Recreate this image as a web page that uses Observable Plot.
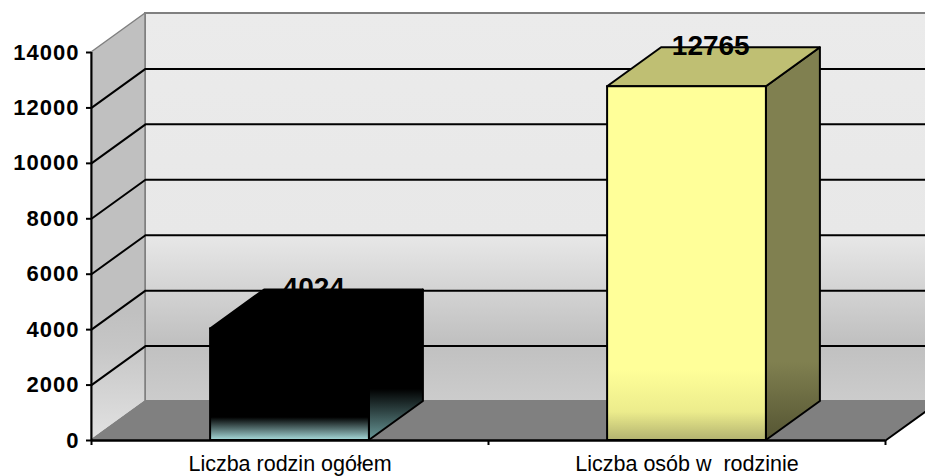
<!DOCTYPE html>
<html><head><meta charset="utf-8">
<script src="https://cdn.jsdelivr.net/npm/d3@7"></script>
<script src="https://cdn.jsdelivr.net/npm/@observablehq/plot@0.6"></script>
<style>html,body{margin:0;padding:0;background:#fff}svg{display:block}
[aria-label="y-axis tick label"]{letter-spacing:1px}</style>
</head><body><div id="chart"></div>
<script>
const categories = ["Liczba rodzin ogółem", "Liczba osób w  rodzinie"];
const values = [4024, 12765];
const yTicks = [0, 2000, 4000, 6000, 8000, 10000, 12000, 14000];
const xEdges = [0, 1, 2];
const xCenters = [0.5, 1.5];

// 3D projection expressed in data units
const depthX = 0.136, depthY = 1407, barWidth = 0.4, yMax = 14000, xMax = 2;

const line = (pts, o) => Plot.line(pts, {x: d => d[0], y: d => d[1], ...o});
const hband = (x1, x2, y1, y2, o) => Plot.area([{x1, x2, y: y1}, {x1: x1 + depthX, x2: x2 + depthX, y: y2}],
  {x1: "x1", x2: "x2", y1: "y", y2: "y", curve: "linear", ...o});
const vband = (x, y1, y2, o) => Plot.area([{x, y1, y2}, {x: x + depthX, y1: y1 + depthY, y2: y2 + depthY}],
  {x1: "x", x2: "x", y1: "y1", y2: "y2", curve: "linear", ...o});

const defs = () => {
  const s = d3.create("svg:defs");
  const grad = (id, stops) => {
    const g = s.append("linearGradient").attr("id", id).attr("x1", 0).attr("x2", 0).attr("y1", 0).attr("y2", 1);
    for (const [o, c] of stops) g.append("stop").attr("offset", o).attr("stop-color", c);
  };
  grad("wall", [[0, "#ebebeb"], [0.57, "#e8e8e8"], [0.85, "#c0c0c0"], [1, "#cccccc"]]);
  grad("side", [[0, "#c0c0c0"], [0.7, "#c0c0c0"], [0.78, "#c6c6c6"], [1, "#e2e2e2"]]);
  grad("bar1f", [[0, "#000"], [0.795, "#000"], [1, "#a8dcdc"]]);
  grad("bar1s", [[0, "#000"], [0.66, "#000"], [1, "#6a9a9a"]]);
  grad("bar2f", [[0, "#ffff99"], [0.8, "#ffff99"], [0.92, "#ecec8c"], [1, "#b3b370"]]);
  grad("bar2s", [[0, "#808050"], [0.8, "#808050"], [1, "#555533"]]);
  return s.node();
};

const faces = [
  {front: "url(#bar1f)", side: "url(#bar1s)", top: "#000000"},
  {front: "url(#bar2f)", side: "url(#bar2s)", top: "#bfbf73"}
];

const barMarks = values.flatMap((v, i) => {
  const a = xCenters[i] - barWidth / 2, b = xCenters[i] + barWidth / 2;
  const st = {stroke: "#000", strokeWidth: 2};
  return [
    vband(b, 0, v, {fill: faces[i].side, ...st}),
    hband(a, b, v, v + depthY, {fill: faces[i].top, ...st}),
    Plot.rect([0], {x1: a, x2: b, y1: 0, y2: v, fill: faces[i].front, ...st})
  ];
});

const plot = Plot.plot({
  width: 925, height: 476,
  marginLeft: 91, marginRight: 40, marginTop: 52, marginBottom: 36,
  x: {domain: [0, xMax], range: [91, 885]},
  y: {domain: [0, yMax], range: [440, 52]},
  style: {background: "#fff", fontFamily: "Liberation Sans, Arial, sans-serif"},
  marks: [
    defs,
    // back wall, side wall, floor
    Plot.rect([0], {x1: depthX, x2: xMax + depthX, y1: depthY, y2: yMax + depthY, fill: "url(#wall)", stroke: "#808080", strokeWidth: 2}),
    vband(0, 0, yMax, {fill: "url(#side)", stroke: "#808080", strokeWidth: 1.5}),
    hband(0, xMax, 0, depthY, {fill: "#808080", stroke: "#808080"}),
    // gridlines
    ...yTicks.filter(t => t > 0 && t < yMax).flatMap(t => [
      line([[0, t], [depthX, t + depthY], [xMax + depthX, t + depthY]], {stroke: "#000", strokeWidth: 2})
    ]),
    // floor front right edge and baseline
    line([[xMax, 0], [xMax + depthX, depthY]], {stroke: "#000", strokeWidth: 2}),
    ...barMarks,
    // axes
    Plot.ruleX([0], {y1: 0, y2: yMax, stroke: "#000", strokeWidth: 2}),
    Plot.ruleY([0], {x1: 0, x2: xMax, stroke: "#000", strokeWidth: 2.5}),
    Plot.axisY(yTicks, {anchor: "left", tickSize: 5, tickPadding: 7, strokeWidth: 2, stroke: "#000", fontSize: 22, fontWeight: "bold", fill: "#000", tickFormat: d => String(d), label: null}),
    Plot.axisX(xEdges, {anchor: "bottom", tickSize: 5, strokeWidth: 2, stroke: "#000", tickFormat: () => "", label: null}),
    Plot.axisX(xCenters, {anchor: "bottom", tickSize: 0, tickPadding: 15, fontSize: 21.5, fill: "#000", tickFormat: d => categories[xCenters.indexOf(d)], label: null}),
    // value labels
    Plot.text(values, {x: (d, i) => xCenters[i] + depthX * 0.44, y: d => d, text: d => String(d), dy: -41, fontSize: 28, fontWeight: "bold", fill: "#000", textAnchor: "middle", lineAnchor: "middle"})
  ]
});
document.getElementById("chart").append(plot);
</script></body></html>
